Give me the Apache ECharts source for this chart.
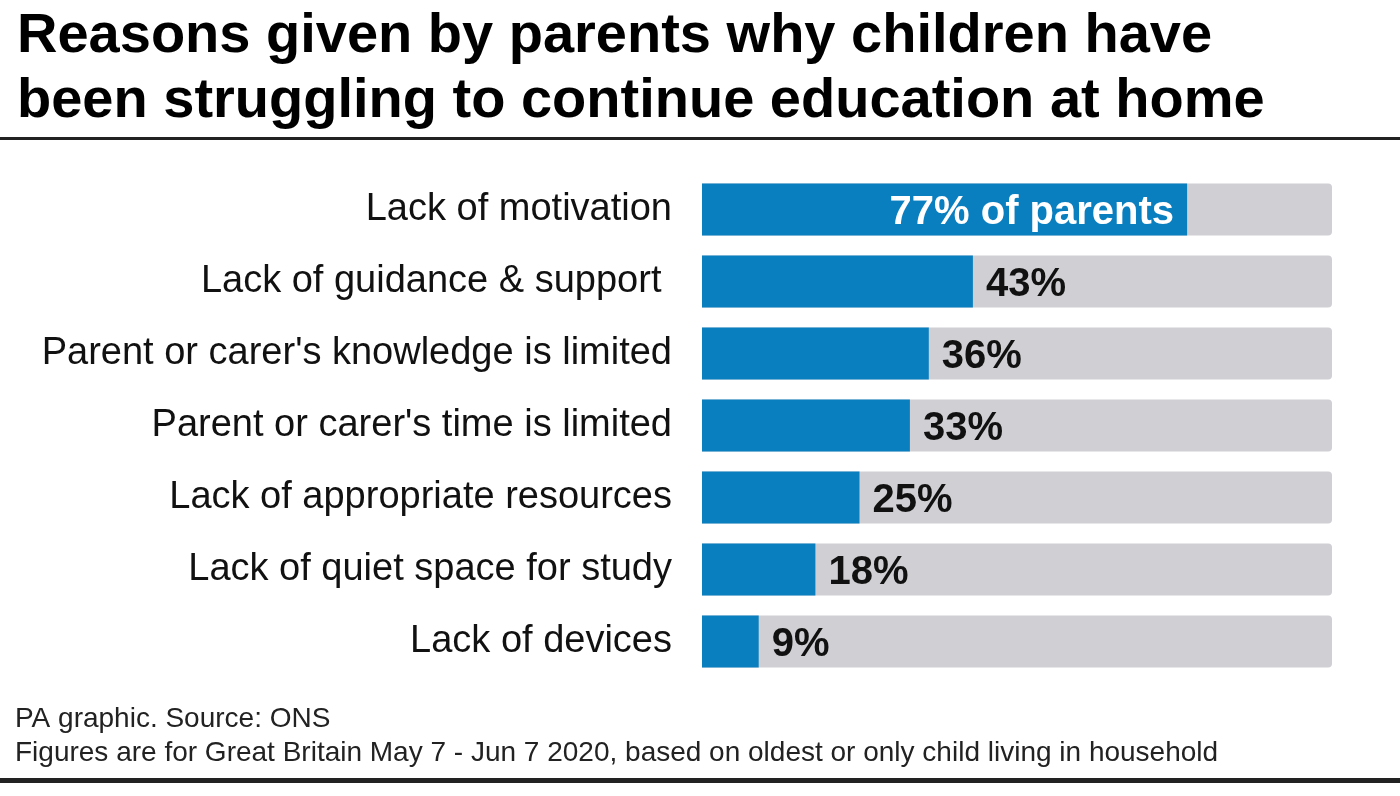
<!DOCTYPE html>
<html>
<head>
<meta charset="utf-8">
<script src="https://cdn.jsdelivr.net/npm/echarts@6/dist/echarts.min.js"></script>
<style>html,body{margin:0;padding:0;background:#fff}#c{width:1400px;height:796px}</style>
</head>
<body>
<div id="c"></div>
<script>
const categories = [
  "Lack of motivation",
  "Lack of guidance & support ",
  "Parent or carer's knowledge is limited",
  "Parent or carer's time is limited",
  "Lack of appropriate resources",
  "Lack of quiet space for study",
  "Lack of devices"
];
const values = [77, 43, 36, 33, 25, 18, 9];
const titleLines = [
  "Reasons given by parents why children have",
  "been struggling to continue education at home"
];
const footerLines = [
  "PA graphic. Source: ONS",
  "Figures are for Great Britain May 7 - Jun 7 2020, based on oldest or only child living in household"
];
const FONT = '"Liberation Sans", Arial, sans-serif';

const dataItems = values.map((v, i) => i === 0 ? {
  value: v,
  label: {position: 'insideRight', distance: 13, color: '#fff', formatter: p => p.value + '% of parents'}
} : v);

const chart = echarts.init(document.getElementById('c'), null, {renderer: 'canvas'});
chart.setOption({
  backgroundColor: '#ffffff',
  animation: false,
  title: {
    text: titleLines.join('\n'),
    left: 17, top: 4, padding: 0,
    textStyle: {fontFamily: FONT, fontWeight: 'bold', fontSize: 56, lineHeight: 65, color: '#000'}
  },
  grid: {left: 702, right: 68, top: 173.5, height: 504, containLabel: false},
  xAxis: {type: 'value', min: 0, max: 100, show: false},
  yAxis: {
    type: 'category', data: categories, inverse: true,
    axisLine: {show: false}, axisTick: {show: false}, splitLine: {show: false},
    axisLabel: {fontFamily: FONT, fontSize: 38, color: '#111', margin: 30, padding: [4, 0, 0, 0]}
  },
  series: [{
    type: 'bar',
    data: dataItems,
    barCategoryGap: '28%',
    itemStyle: {color: '#0a7fc0'},
    showBackground: true,
    backgroundStyle: {color: '#d0d0d4', borderRadius: [0, 4, 4, 0]},
    label: {
      show: true, position: 'right', distance: 13, offset: [0, 3],
      fontFamily: FONT, fontWeight: 'bold', fontSize: 40, color: '#111',
      formatter: p => p.value + '%'
    }
  }],
  graphic: [
    {type: 'rect', shape: {x: 0, y: 137, width: 1400, height: 3}, style: {fill: '#222'}},
    {type: 'rect', shape: {x: 0, y: 778, width: 1400, height: 5}, style: {fill: '#222'}},
    {type: 'text', x: 15, y: 719, style: {text: footerLines[0], font: '28px ' + FONT, fill: '#222', verticalAlign: 'middle'}},
    {type: 'text', x: 15, y: 753, style: {text: footerLines[1], font: '28px ' + FONT, fill: '#222', verticalAlign: 'middle'}}
  ]
});
</script>
</body>
</html>
